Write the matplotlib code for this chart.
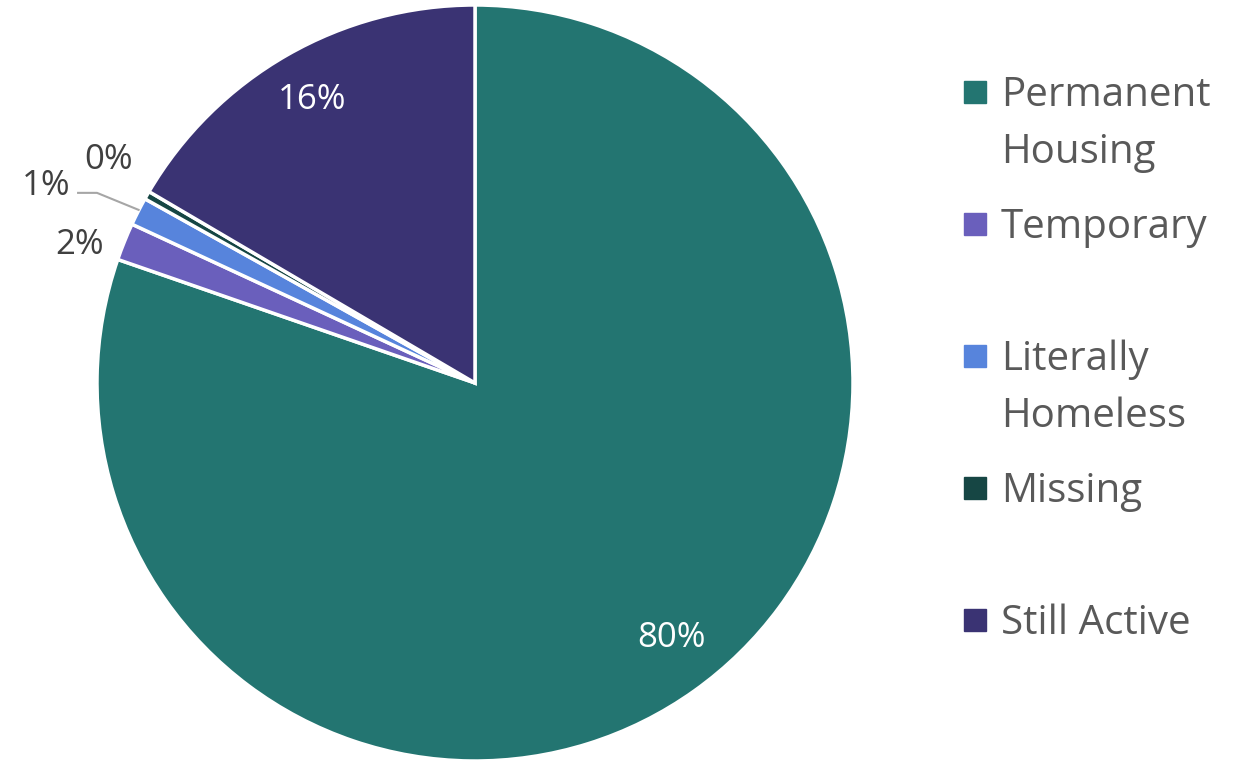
import matplotlib.pyplot as plt
from matplotlib.patches import Rectangle

# outcome shares (percent)
categories = ['Permanent Housing', 'Temporary', 'Literally Homeless', 'Missing', 'Still Active']
legend_labels = ['Permanent\nHousing', 'Temporary', 'Literally\nHomeless', 'Missing', 'Still Active']
shares = [80.3, 1.6, 1.2, 0.35, 16.55]
pct_labels = ['80%', '2%', '1%', '0%', '16%']
colors = ['#237571', '#6a5fbc', '#5784dc', '#164644', '#3a3373']

plt.rcParams['font.family'] = ['Open Sans', 'DejaVu Sans']

W, H = 1248, 761
fig = plt.figure(figsize=(W / 100, H / 100), dpi=100)
ax = fig.add_axes([97 / W, 0, 756 / W, 756 / H])

wedges, _ = ax.pie(shares, colors=colors, startangle=90, counterclock=False,
                   radius=1, wedgeprops=dict(edgecolor='white', linewidth=2.5))
ax.set_xlim(-1, 1)
ax.set_ylim(-1, 1)
ax.set_aspect('equal')
ax.axis('off')

# inner labels for the big slices
ax.text(0.52, -0.675, pct_labels[0], color='white', fontsize=25, ha='center', va='center')
ax.text(-0.43, 0.75, pct_labels[4], color='white', fontsize=25, ha='center', va='center')

# outer labels for the thin slices
ax.text(-1.045, 0.365, pct_labels[1], color='#404040', fontsize=25, ha='center', va='center')
ax.text(-0.97, 0.59, pct_labels[3], color='#404040', fontsize=25, ha='center', va='center')
ax.text(-1.135, 0.52, pct_labels[2], color='#404040', fontsize=25, ha='center', va='center')
ax.plot([-1.05, -1.0, -0.89], [0.503, 0.503, 0.458], color='#a6a6a6', lw=1.5, clip_on=False)

# legend drawn entry by entry, one text per line
first_y = 92
step = 132
line_pitch = 57
for i, (lab, col) in enumerate(zip(legend_labels, colors)):
    yc = first_y + i * step
    fig.patches.append(Rectangle((964 / W, (H - yc - 11) / H), 22 / W, 22 / H,
                                 color=col, transform=fig.transFigure))
    for j, line in enumerate(lab.split('\n')):
        base = yc + 14 + j * line_pitch
        fig.text(1001 / W, (H - base) / H, line, color='#595959', fontsize=29,
                 ha='left', va='baseline')

fig.savefig('out.png', dpi=100)
